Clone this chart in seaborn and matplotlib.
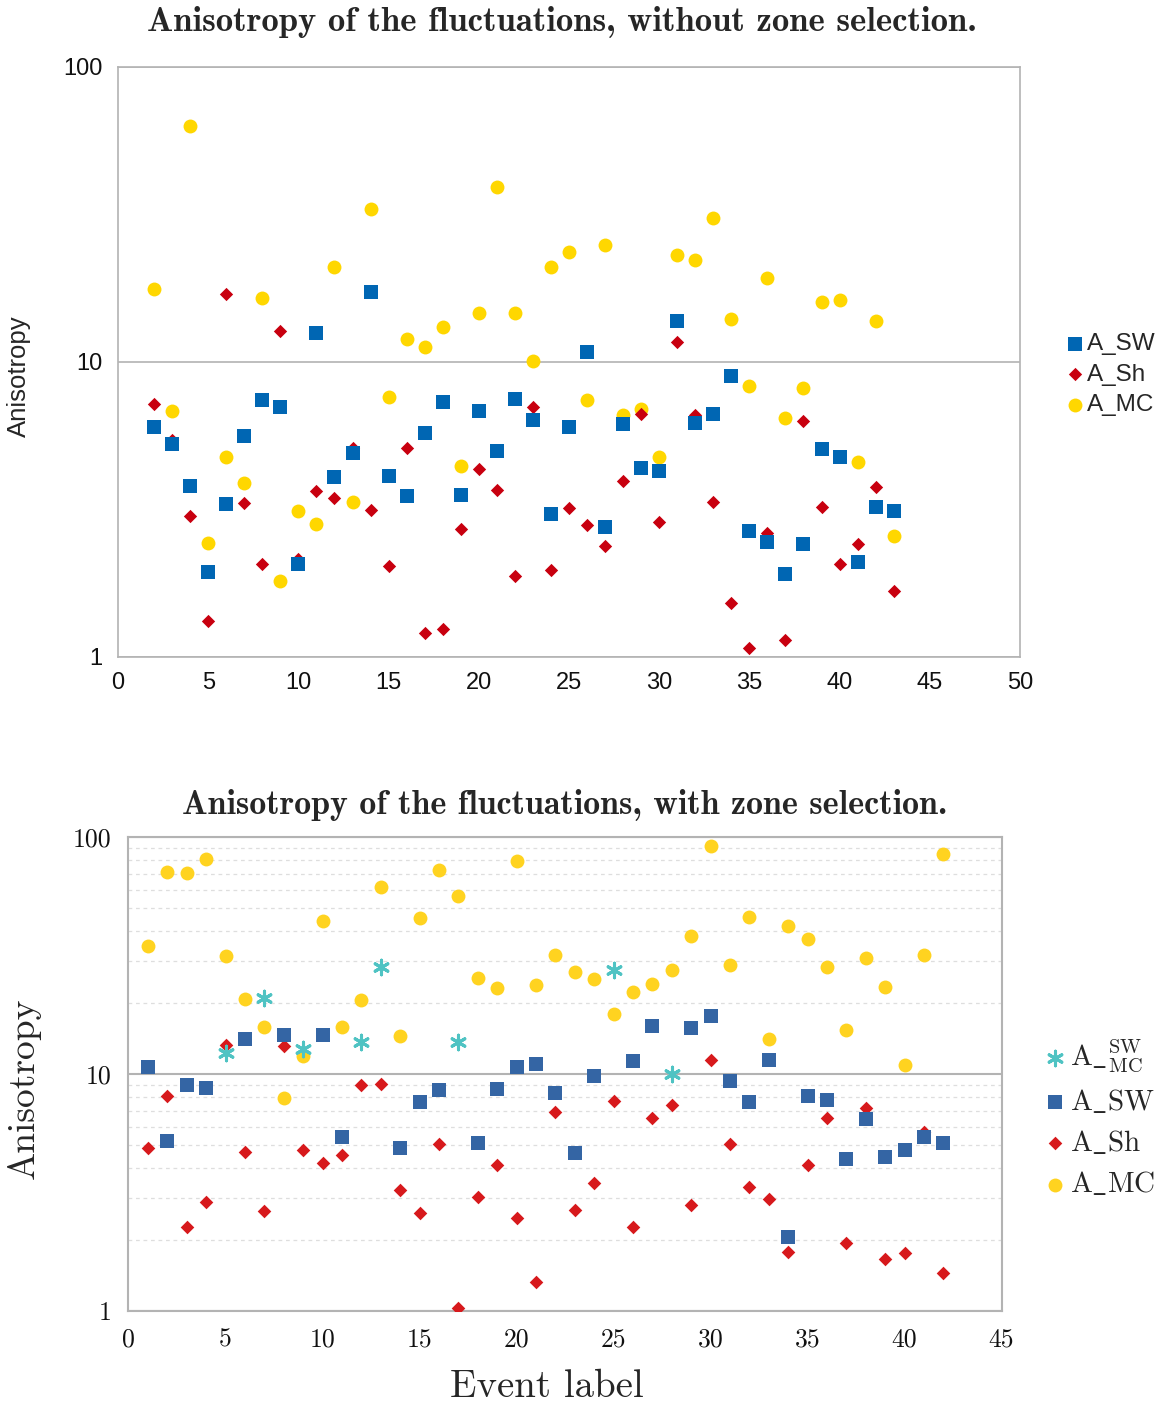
import matplotlib
matplotlib.use("Agg")
import matplotlib.pyplot as plt
import seaborn as sns
from matplotlib.ticker import LogLocator, NullLocator, NullFormatter

# ---------------- data: top panel (without zone selection) ----------------
top_x = list(range(2, 44))
top_sw = [6.02, 5.27, 3.80, 1.94, 3.30, 5.61, 7.43, 7.03, 2.07, 12.5, 4.08, 4.91,
          17.3, 4.11, 3.51, 5.75, 7.32, 3.54, 6.82, 4.99, 7.49, 6.36, 3.05, 6.02,
          10.8, 2.76, 6.16, 4.37, 4.27, 13.8, 6.21, 6.66, 8.97, 2.67, 2.45, 1.91,
          2.42, 5.07, 4.76, 2.10, 3.22, 3.12]
top_sh = [7.21, 5.44, 3.01, 1.32, 17.0, 3.33, 2.07, 12.7, 2.15, 3.65, 3.46, 5.11,
          3.15, 2.03, 5.11, 1.21, 1.24, 2.72, 4.34, 3.68, 1.88, 7.04, 1.97, 3.20,
          2.80, 2.38, 3.95, 6.66, 2.87, 11.7, 6.61, 3.35, 1.52, 1.07, 2.63, 1.14,
          6.31, 3.22, 2.07, 2.42, 3.77, 1.67]
top_mc = [17.7, 6.82, 63.1, 2.43, 4.76, 3.89, 16.5, 1.81, 3.12, 2.82, 21.0, 3.35,
          33.0, 7.61, 12.0, 11.2, 13.1, 4.44, 14.7, 39.2, 14.7, 10.1, 21.0, 23.6,
          7.43, 24.9, 6.61, 6.93, 4.76, 23.1, 22.2, 30.8, 14.0, 8.29, 19.3, 6.46,
          8.16, 16.0, 16.2, 4.58, 13.8, 2.57]

# ---------------- data: bottom panel (with zone selection) ----------------
bot_x = list(range(1, 43))
bot_mc = [34.8, 71.2, 70.3, 80.5, 31.6, 20.8, 15.8, 7.89, 11.9, 44.2,
          15.8, 20.5, 61.3, 14.5, 45.4, 72.3, 56.2, 25.5, 23.1, 79.4,
          23.7, 31.7, 26.9, 25.1, 17.9, 22.1, 24.0, 27.5, 38.1, 91.6,
          28.8, 46.1, 14.1, 42.1, 37.1, 28.4, 15.4, 31.0, 23.4, 10.9, 31.8, 85.0]
bot_sh = [4.89, 8.08, 2.26, 2.89, 13.3, 4.69, 2.64, 13.1, 4.78, 4.22,
          4.54, 8.99, 9.10, 3.25, 2.59, 5.07, 1.03, 3.03, 4.14, 2.46,
          1.32, 6.93, 2.68, 3.46, 7.71, 2.27, 6.54, 7.38, 2.79, 11.5,
          5.05, 3.33, 2.97, 1.78, 4.12, 6.52, 1.93, 7.17, 1.66, 1.76, 5.71, 1.45]
bot_sw_x = [1, 2, 3, 4, 6, 8, 10, 11, 14, 15, 16, 18, 19, 20, 21, 22, 23, 24,
            26, 27, 29, 30, 31, 32, 33, 34, 35, 36, 37, 38, 39, 40, 41, 42]
bot_sw = [10.7, 5.23, 8.96, 8.70, 14.0, 14.6, 14.6, 5.44, 4.86, 7.64, 8.59, 5.13,
          8.62, 10.7, 11.0, 8.34, 4.65, 9.78, 11.3, 15.9, 15.7, 17.6, 9.37, 7.60,
          11.5, 2.06, 8.05, 7.77, 4.37, 6.44, 4.45, 4.78, 5.44, 5.10]
bot_swmc_x = [5, 7, 9, 12, 13, 17, 25, 28]
bot_swmc = [12.3, 21.0, 12.8, 13.6, 28.3, 13.6, 27.4, 10.0]

top_xticks = list(range(0, 51, 5))
bot_xticks = list(range(0, 46, 5))
y_ticks = [1, 10, 100]
y_ticklabels = ["1", "10", "100"]

# ---------------- style ----------------
sns.set_style("white")
plt.rcParams["font.family"] = ["Liberation Sans", "DejaVu Sans"]
plt.rcParams["mathtext.fontset"] = "cm"

C_SW1, C_SH1, C_MC1 = "#0066b3", "#c8000f", "#ffd700"
C_SW2, C_SH2, C_MC2, C_ST2 = "#3465a4", "#d7191c", "#ffd320", "#4fc3c3"
GRID = "#b3b3b3"

fig = plt.figure(figsize=(11.65, 14.04), dpi=100)
ax1 = fig.add_axes([0.1013, 0.5321, 0.7742, 0.4202])
ax2 = fig.add_axes([0.1103, 0.0662, 0.7494, 0.3376])

# ---------------- top panel ----------------
sns.scatterplot(x=top_x, y=top_mc, ax=ax1, marker="o", s=100, color=C_MC1,
                linewidth=0, label="A_MC", zorder=3)
sns.scatterplot(x=top_x, y=top_sh, ax=ax1, marker="D", s=46, color=C_SH1,
                linewidth=0, label="A_Sh", zorder=4)
sns.scatterplot(x=top_x, y=top_sw, ax=ax1, marker="s", s=105, color=C_SW1,
                linewidth=0, label="A_SW", zorder=5)
ax1.set_yscale("log")
ax1.set_xlim(0, 50)
ax1.set_ylim(1, 100)
ax1.set_xticks(top_xticks)
ax1.set_xticklabels([str(t) for t in top_xticks], fontsize=17)
ax1.set_yticks(y_ticks)
ax1.set_yticklabels(y_ticklabels, fontsize=17)
ax1.yaxis.set_minor_locator(NullLocator())
ax1.yaxis.set_minor_formatter(NullFormatter())
ax1.tick_params(axis="both", which="major", length=7, width=1.2, color=GRID,
                direction="out", pad=4, labelcolor="#111111")
ax1.yaxis.grid(True, color=GRID, lw=1.2)
ax1.xaxis.grid(False)
for sp in ax1.spines.values():
    sp.set_color(GRID)
    sp.set_linewidth(1.2)
ax1.set_ylabel("Anisotropy", fontsize=18.5)
ax1.yaxis.set_label_coords(-0.097, 0.476)
h, l = ax1.get_legend_handles_labels()
order = [l.index("A_SW"), l.index("A_Sh"), l.index("A_MC")]
ax1.legend([h[i] for i in order], [l[i] for i in order], loc="center left",
           bbox_to_anchor=(0.908, 0.733), bbox_transform=fig.transFigure,
           frameon=False, fontsize=17.5, handletextpad=0.0, handlelength=1.0,
           labelspacing=0.35, borderpad=0.2, borderaxespad=0)
fig.text(0.4824, 0.9843, "Anisotropy of the fluctuations, without zone selection.",
         ha="center", va="center", fontfamily="cmb10", fontsize=25)

# ---------------- bottom panel ----------------
sns.scatterplot(x=bot_x, y=bot_mc, ax=ax2, marker="o", s=100, color=C_MC2,
                linewidth=0, label=r"$\mathrm{A\_MC}$", zorder=3)
sns.scatterplot(x=bot_x, y=bot_sh, ax=ax2, marker="D", s=48, color=C_SH2,
                linewidth=0, label=r"$\mathrm{A\_Sh}$", zorder=4)
sns.scatterplot(x=bot_sw_x, y=bot_sw, ax=ax2, marker="s", s=100, color=C_SW2,
                linewidth=0, label=r"$\mathrm{A\_SW}$", zorder=5)
sns.scatterplot(x=bot_swmc_x, y=bot_swmc, ax=ax2, marker=(6, 2, 0), s=110,
                color=C_ST2, linewidth=2.2,
                label=r"$\mathrm{A\_}^{\mathrm{SW}}_{\mathrm{MC}}$", zorder=6)
ax2.set_yscale("log")
ax2.set_xlim(0, 45)
ax2.set_ylim(1, 100)
ax2.set_xticks(bot_xticks)
ax2.set_xticklabels([str(t) for t in bot_xticks], fontsize=18.5, fontfamily="cmr10")
ax2.set_yticks(y_ticks)
ax2.set_yticklabels(y_ticklabels, fontsize=18.5, fontfamily="cmr10")
ax2.yaxis.set_minor_locator(LogLocator(base=10, subs=range(2, 10)))
ax2.yaxis.set_minor_formatter(NullFormatter())
ax2.tick_params(axis="both", which="major", length=7, width=1.2, color=GRID,
                direction="out", pad=5, labelcolor="#111111")
ax2.tick_params(axis="y", which="minor", length=0)
ax2.yaxis.grid(True, which="major", color=GRID, lw=1.5)
ax2.yaxis.grid(True, which="minor", color="#dedede", lw=0.9, ls=(0, (3, 3)))
ax2.xaxis.grid(False)
for sp in ax2.spines.values():
    sp.set_color(GRID)
    sp.set_linewidth(1.5)
ax2.set_ylabel("Anisotropy", fontsize=27, fontfamily="cmr10")
ax2.yaxis.set_label_coords(-0.101, 0.47)
ax2.set_xlabel("Event label", fontsize=28, fontfamily="cmr10")
ax2.xaxis.set_label_coords(0.479, -0.122)
h, l = ax2.get_legend_handles_labels()
order = [3, 2, 1, 0]
ax2.legend([h[i] for i in order], [l[i] for i in order], loc="center left",
           bbox_to_anchor=(0.888, 0.2037), bbox_transform=fig.transFigure,
           frameon=False, fontsize=21, handletextpad=0.0, handlelength=1.0,
           labelspacing=0.45, borderpad=0.2, borderaxespad=0)
fig.text(0.485, 0.4267, "Anisotropy of the fluctuations, with zone selection.",
         ha="center", va="center", fontfamily="cmb10", fontsize=24.5)

fig.savefig("out.png", dpi=100, facecolor="white")
